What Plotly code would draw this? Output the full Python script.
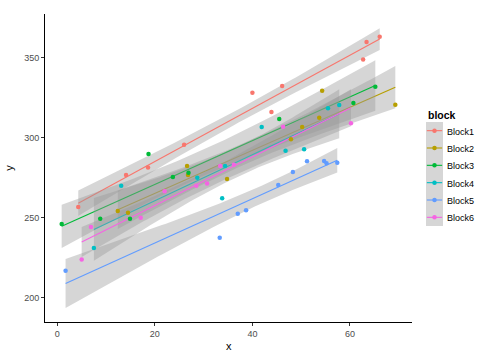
import numpy as np
import plotly.graph_objects as go

blocks = ["Block1", "Block2", "Block3", "Block4", "Block5", "Block6"]
colors = ["#F8766D", "#B79F00", "#00BA38", "#00BFC4", "#619CFF", "#F564E3"]

x_b1 = [4.3, 14.1, 18.6, 26.0, 40.0, 43.9, 46.1, 62.7, 63.4, 66.1]
y_b1 = [256.7, 276.7, 281.3, 295.6, 328.1, 316.1, 332.3, 348.8, 359.8, 363.1]
x_b2 = [12.4, 14.5, 26.6, 26.8, 34.8, 47.9, 50.2, 53.7, 54.3, 69.3]
y_b2 = [254.2, 253.1, 282.3, 276.6, 274.2, 299.0, 306.7, 312.5, 329.4, 320.6]
x_b3 = [0.9, 8.8, 14.9, 18.7, 23.7, 26.9, 45.5, 60.7, 65.2]
y_b3 = [246.0, 249.4, 249.4, 289.8, 275.4, 278.1, 311.7, 321.7, 331.9]
x_b4 = [7.5, 13.1, 28.7, 33.8, 34.4, 41.9, 46.8, 50.6, 55.5, 57.8]
y_b4 = [231.1, 270.0, 275.0, 262.1, 282.3, 306.7, 291.9, 292.8, 318.4, 320.4]
x_b5 = [1.7, 33.3, 37.0, 38.7, 45.3, 48.3, 51.2, 54.7, 55.2, 57.4]
y_b5 = [216.9, 237.5, 252.5, 254.6, 270.4, 278.6, 285.3, 285.4, 284.0, 284.4]
x_b6 = [5.0, 6.9, 17.1, 22.0, 28.5, 30.7, 33.4, 36.2, 46.3, 60.2]
y_b6 = [223.8, 244.2, 250.0, 266.5, 270.0, 271.3, 282.3, 283.1, 306.9, 309.0]

xs = [x_b1, x_b2, x_b3, x_b4, x_b5, x_b6]
ys = [y_b1, y_b2, y_b3, y_b4, y_b5, y_b6]

x_ticks = [0, 20, 40, 60]
y_ticks = [200, 250, 300, 350]
x_range = [-2.52, 72.72]
y_range = [184.8, 377.3]

T975 = {6: 2.446912, 7: 2.364624, 8: 2.306004, 9: 2.262157, 10: 2.228139}


def lm_band(x, y, n_out=80):
    x = np.asarray(x, float)
    y = np.asarray(y, float)
    n = len(x)
    xb = x.mean()
    sxx = ((x - xb) ** 2).sum()
    b = ((x - xb) * (y - y.mean())).sum() / sxx
    a = y.mean() - b * xb
    resid = y - (a + b * x)
    s = np.sqrt((resid ** 2).sum() / (n - 2))
    xg = np.linspace(x.min(), x.max(), n_out)
    fit = a + b * xg
    se = s * np.sqrt(1.0 / n + (xg - xb) ** 2 / sxx)
    t = T975[n - 2]
    return xg, fit, fit - t * se, fit + t * se


W, H = 504, 360
PL, PR, PT, PB = 45, 412, 14, 322  # plot area in pixels


def px_x(p):
    return p / W


def px_y(p):
    return (H - p) / H


fig = go.Figure()

for name, col, x, y in zip(blocks, colors, xs, ys):
    xg, fit, lo, hi = lm_band(x, y)
    fig.add_trace(go.Scatter(
        x=np.concatenate([xg, xg[::-1]]), y=np.concatenate([hi, lo[::-1]]),
        mode="lines", fill="toself", fillcolor="rgba(153,153,153,0.4)",
        line=dict(width=0), hoverinfo="skip", showlegend=False))
    fig.add_trace(go.Scatter(x=xg, y=fit, mode="lines",
                             line=dict(color=col, width=1.1),
                             showlegend=False, name=name))

for name, col, x, y in zip(blocks, colors, xs, ys):
    fig.add_trace(go.Scatter(x=x, y=y, mode="markers", name=name,
                             marker=dict(color=col, size=4.5),
                             showlegend=False))

# legend drawn in its own small axes (ggplot-style keys)
LEG_X0, LEG_X1, LEG_Y0, LEG_Y1 = 426, 443, 122, 226
n_b = len(blocks)
for i, (name, col) in enumerate(zip(blocks, colors)):
    yc = n_b - 0.5 - i
    fig.add_trace(go.Scatter(x=[0.05, 0.5, 0.95], y=[yc, yc, yc], mode="lines",
                             line=dict(color=col, width=1.1), showlegend=False,
                             hoverinfo="skip", xaxis="x2", yaxis="y2"))
    fig.add_trace(go.Scatter(x=[0.5], y=[yc], mode="markers",
                             marker=dict(color=col, size=4.5), showlegend=False,
                             hoverinfo="skip", xaxis="x2", yaxis="y2"))
    ypix = LEG_Y0 + (i + 0.5) * (LEG_Y1 - LEG_Y0) / n_b + 1
    fig.add_annotation(x=px_x(445), y=px_y(ypix), xref="paper", yref="paper",
                       text=name, showarrow=False, xanchor="left", yanchor="middle",
                       font=dict(size=9, color="black"))

fig.add_annotation(x=px_x(426), y=px_y(114.5), xref="paper", yref="paper",
                   text="<b>block</b>", showarrow=False, xanchor="left",
                   yanchor="middle", font=dict(size=10.5, color="black"))
fig.add_annotation(x=(px_x(PL) + px_x(PR)) / 2, y=px_y(346), xref="paper", yref="paper",
                   text="x", showarrow=False, xanchor="center", yanchor="middle",
                   font=dict(size=11, color="black"))

fig.add_shape(type="rect", xref="paper", yref="paper",
              x0=px_x(LEG_X0), x1=px_x(LEG_X1), y0=px_y(LEG_Y1), y1=px_y(LEG_Y0),
              fillcolor="rgba(153,153,153,0.4)", line=dict(width=0), layer="below")

axis_common = dict(showgrid=False, zeroline=False, showline=True,
                   linecolor="black", linewidth=1, ticks="outside",
                   ticklen=3, tickcolor="#333333", tickwidth=1,
                   tickfont=dict(size=9, color="#4D4D4D"),
                   title_font=dict(size=11, color="black"),
                   automargin=False)

fig.update_layout(
    width=W, height=H,
    margin=dict(l=0, r=0, t=0, b=0),
    paper_bgcolor="white", plot_bgcolor="white",
    font=dict(family="Liberation Sans, Arial, sans-serif"),
    showlegend=False,
    xaxis=dict(range=x_range, domain=[px_x(PL), px_x(PR)], anchor="y",
               tickvals=x_ticks, **axis_common),
    yaxis=dict(range=y_range, domain=[px_y(PB), px_y(PT)], anchor="x",
               tickvals=y_ticks, title=dict(text="y", standoff=8), **axis_common),
    xaxis2=dict(range=[0, 1], domain=[px_x(LEG_X0), px_x(LEG_X1)], anchor="y2",
                visible=False, fixedrange=True),
    yaxis2=dict(range=[0, n_b], domain=[px_y(LEG_Y1), px_y(LEG_Y0)], anchor="x2",
                visible=False, fixedrange=True),
)

fig.write_html("out.html", config={"displayModeBar": False},
               post_script="document.body.style.margin='0';document.body.style.overflow='hidden';")
